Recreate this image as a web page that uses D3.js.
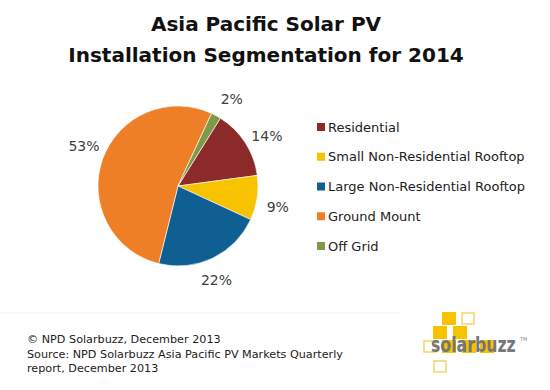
<!DOCTYPE html>
<html lang="en">
<head>
<meta charset="UTF-8">
<title>Asia Pacific Solar PV Installation Segmentation for 2014</title>
<script src="https://d3js.org/d3.v7.min.js"></script>
<style>
  body { margin: 0; background: #fff; }
  text { font-family: Verdana, "DejaVu Sans", sans-serif; }
</style>
</head>
<body>
<div id="chart"></div>
<script>
const segments = ["Residential", "Small Non-Residential Rooftop", "Large Non-Residential Rooftop", "Ground Mount", "Off Grid"];
const shares = [14, 9, 22, 53, 2];
const colors = ["#8c2a2a", "#f7c200", "#0f5f93", "#ef7f26", "#7f9a47"];
const titleLines = ["Asia Pacific Solar PV", "Installation Segmentation for 2014"];
const footnotes = ["\u00a9 NPD Solarbuzz, December 2013", "Source: NPD Solarbuzz Asia Pacific PV Markets Quarterly", "report, December 2013"];

const width = 550, height = 390;
const cx = 178, cy = 186, radius = 80;

const svg = d3.select("#chart").append("svg")
    .attr("width", width)
    .attr("height", height);

svg.append("rect").attr("width", width).attr("height", height).attr("fill", "#fff");

// title
svg.append("g").selectAll("text")
    .data(titleLines)
    .join("text")
    .attr("x", 266)
    .attr("y", (d, i) => 31 + i * 31)
    .attr("text-anchor", "middle")
    .attr("font-size", 20)
    .attr("font-weight", "bold")
    .attr("fill", "#111")
    .text(d => d);

// pie
const startAngle = 32 * Math.PI / 180;
const pie = d3.pie()
    .value(d => d)
    .sort(null)
    .startAngle(startAngle)
    .endAngle(startAngle + 2 * Math.PI);

const arc = d3.arc().innerRadius(0).outerRadius(radius);

const g = svg.append("g").attr("transform", `translate(${cx},${cy})`);
const arcs = pie(shares);

g.selectAll("path")
    .data(arcs)
    .join("path")
    .attr("d", arc)
    .attr("fill", (d, i) => colors[i])
    .attr("stroke", "#fff")
    .attr("stroke-width", 0.6);

// labels nudged a bit clockwise, like the original's best-fit placement
g.selectAll("text")
    .data(arcs)
    .join("text")
    .attr("transform", d => {
        const a = (d.startAngle + d.endAngle) / 2 + 0.06;
        const r = radius + 22;
        return `translate(${r * Math.sin(a)},${-r * Math.cos(a)})`;
    })
    .attr("text-anchor", "middle")
    .attr("dy", "0.35em")
    .attr("font-size", 14)
    .attr("fill", "#404040")
    .text(d => d.data + "%");

// legend
const legend = svg.append("g").attr("transform", "translate(317,127)");
const y = d3.scalePoint().domain(segments).range([0, 119]);
const rows = legend.selectAll("g")
    .data(segments)
    .join("g")
    .attr("transform", d => `translate(0,${y(d)})`);
rows.append("rect")
    .attr("x", 0).attr("y", -4)
    .attr("width", 8).attr("height", 8)
    .attr("fill", (d, i) => colors[i]);
rows.append("text")
    .attr("x", 11)
    .attr("dy", "0.35em")
    .attr("font-size", 13)
    .attr("fill", "#222")
    .text(d => d);

// faint separator
svg.append("line")
    .attr("x1", 0).attr("x2", 400).attr("y1", 313).attr("y2", 313)
    .attr("stroke", "#f0f0f0");

// footnotes
svg.append("g").selectAll("text")
    .data(footnotes)
    .join("text")
    .attr("x", 27)
    .attr("y", (d, i) => 343 + i * 14.5)
    .attr("font-size", 11.2)
    .attr("fill", "#222")
    .text(d => d);

// logo
const logo = svg.append("g");
const filled = [[442, 312], [433, 326], [453, 326], [442, 340], [462, 340], [480, 340]];
const outlined = [[461, 312], [423, 340], [433, 360]];
logo.selectAll("rect.f").data(filled).join("rect")
    .attr("class", "f")
    .attr("x", d => d[0]).attr("y", d => d[1])
    .attr("width", 14).attr("height", 13)
    .attr("fill", "#f7c200");
logo.selectAll("rect.o").data(outlined).join("rect")
    .attr("class", "o")
    .attr("x", d => d[0] + 1).attr("y", d => d[1] + 1)
    .attr("width", 12).attr("height", 11)
    .attr("fill", "none")
    .attr("stroke", "#f3d66a")
    .attr("stroke-width", 1.5);
logo.append("text")
    .attr("transform", "translate(431,352) scale(0.75,1)")
    .attr("font-size", 21)
    .attr("font-weight", "bold")
    .attr("fill", "#777")
    .text("solarbuzz");
logo.append("text")
    .attr("x", 520).attr("y", 341)
    .attr("font-size", 5)
    .attr("fill", "#888")
    .text("TM");
</script>
</body>
</html>
